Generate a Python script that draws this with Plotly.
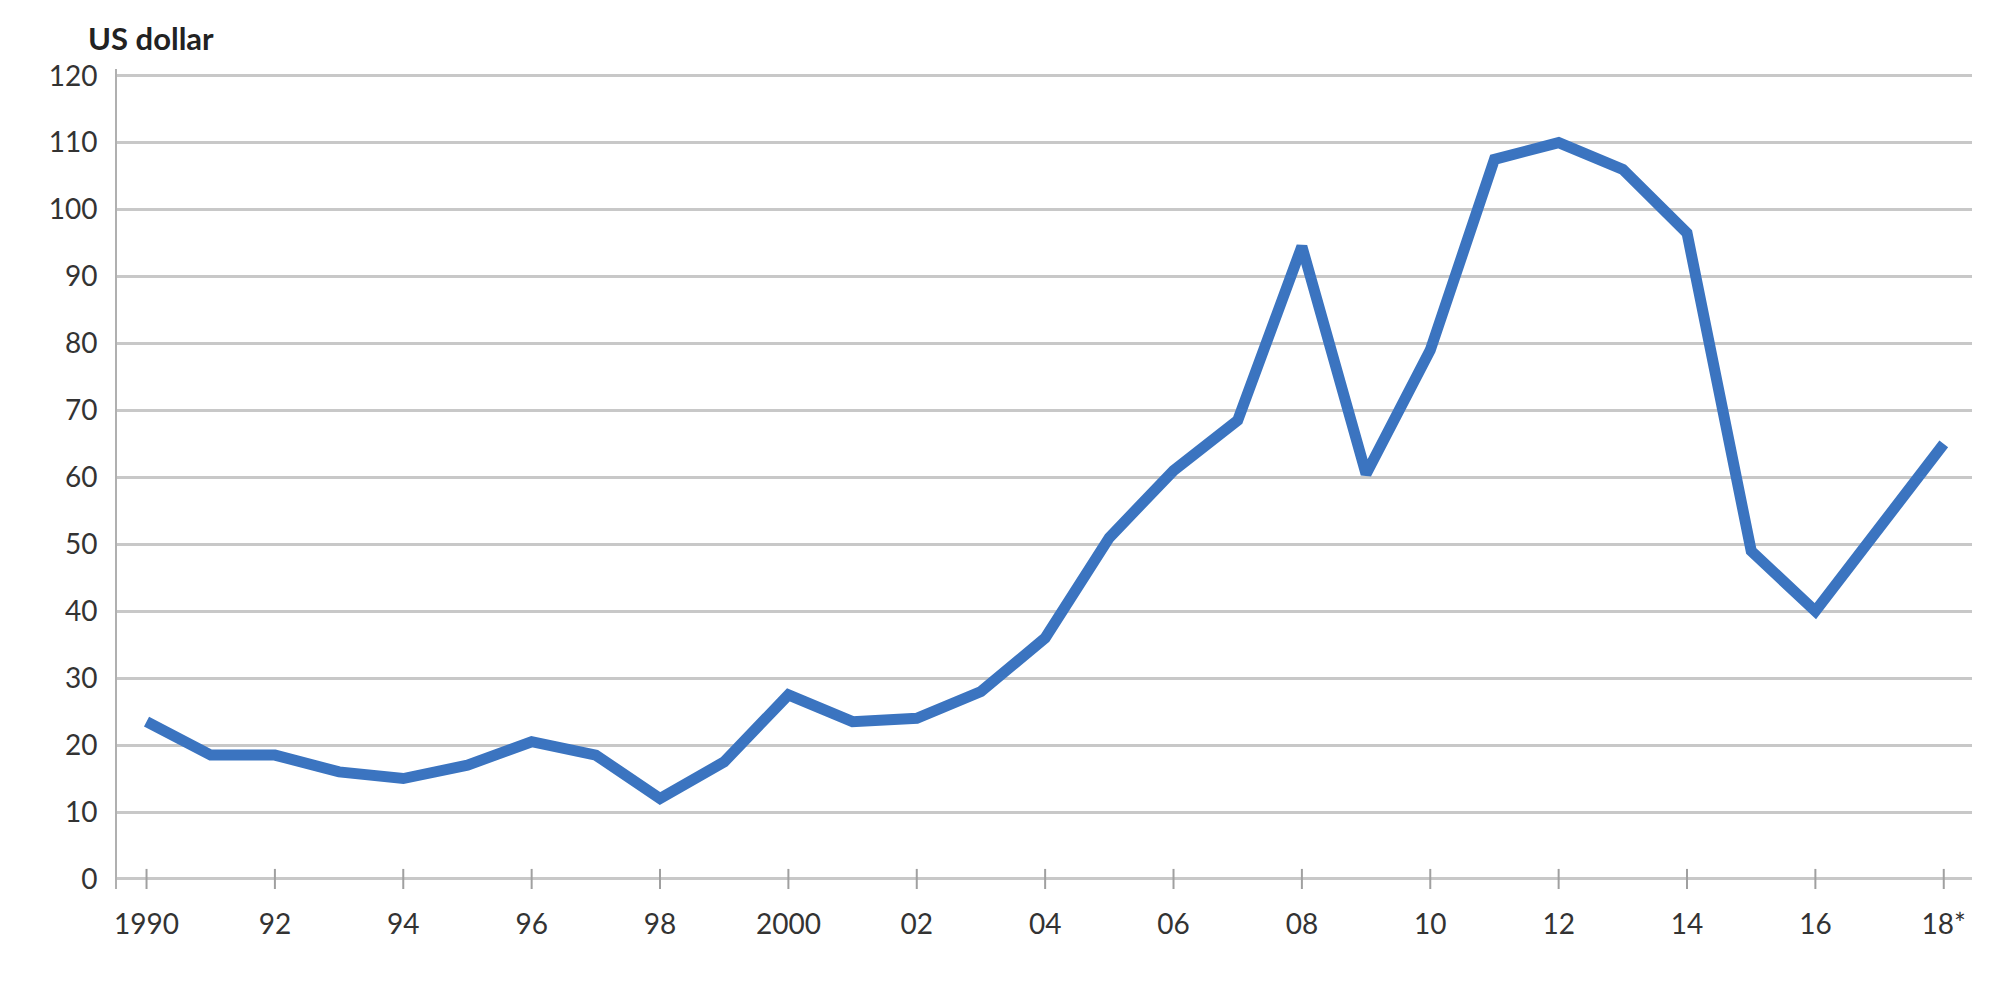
import plotly.graph_objects as go

years = list(range(1990, 2019))
price = [23.5, 18.5, 18.5, 16, 15, 17, 20.5, 18.5, 12, 17.5,
         27.5, 23.5, 24, 28, 36, 51, 61, 68.5, 94.5, 60.5,
         79, 107.5, 110, 106, 96.5, 49, 40, 52.5, 65]

tick_years = list(range(1990, 2019, 2))
tick_labels = ["1990", "92", "94", "96", "98", "2000", "02", "04",
               "06", "08", "10", "12", "14", "16", "18*"]
y_ticks = list(range(0, 121, 10))

L, R, T, B = 109, 36, 61, 112
W, H = 2000, 993

fig = go.Figure()
fig.add_trace(go.Scatter(
    x=years, y=price, mode="lines",
    line=dict(color="#3b74c0", width=11),
    hoverinfo="skip",
))

fig.update_layout(
    width=W, height=H,
    margin=dict(l=L, r=R, t=T, b=B),
    plot_bgcolor="white", paper_bgcolor="white",
    showlegend=False,
    font=dict(family="Lato", size=28, color="#333333"),
    annotations=[dict(
        text="<b>US dollar</b>",
        x=(78 - L) / (W - L - R), y=1 + (T - 30) / (H - T - B),
        xref="paper", yref="paper", xanchor="left", yanchor="middle",
        showarrow=False, font=dict(size=31, color="#222222"),
    )],
)

fig.update_xaxes(
    range=[1989.54, 2018.44], tickvals=tick_years, ticktext=tick_labels,
    showgrid=False, zeroline=False, showline=False,
    ticks="outside", ticklen=10, tickcolor="white",
    tickfont=dict(size=28, color="#333333"),
)
fig.update_yaxes(
    range=[-1.5, 121], tickvals=y_ticks,
    showgrid=True, gridcolor="#c8c8c8", gridwidth=3,
    zeroline=False, showline=True, linecolor="#b0b0b0", linewidth=2,
    ticks="", ticklabelstandoff=12, tickfont=dict(size=28, color="#333333"),
)
# tick marks crossing the zero line
for yr in tick_years:
    fig.add_shape(type="line", xref="x", yref="y", x0=yr, x1=yr, y0=-1.5, y1=1.5,
                  line=dict(color="#a0a0a0", width=2))

fig.write_html("out.html")
